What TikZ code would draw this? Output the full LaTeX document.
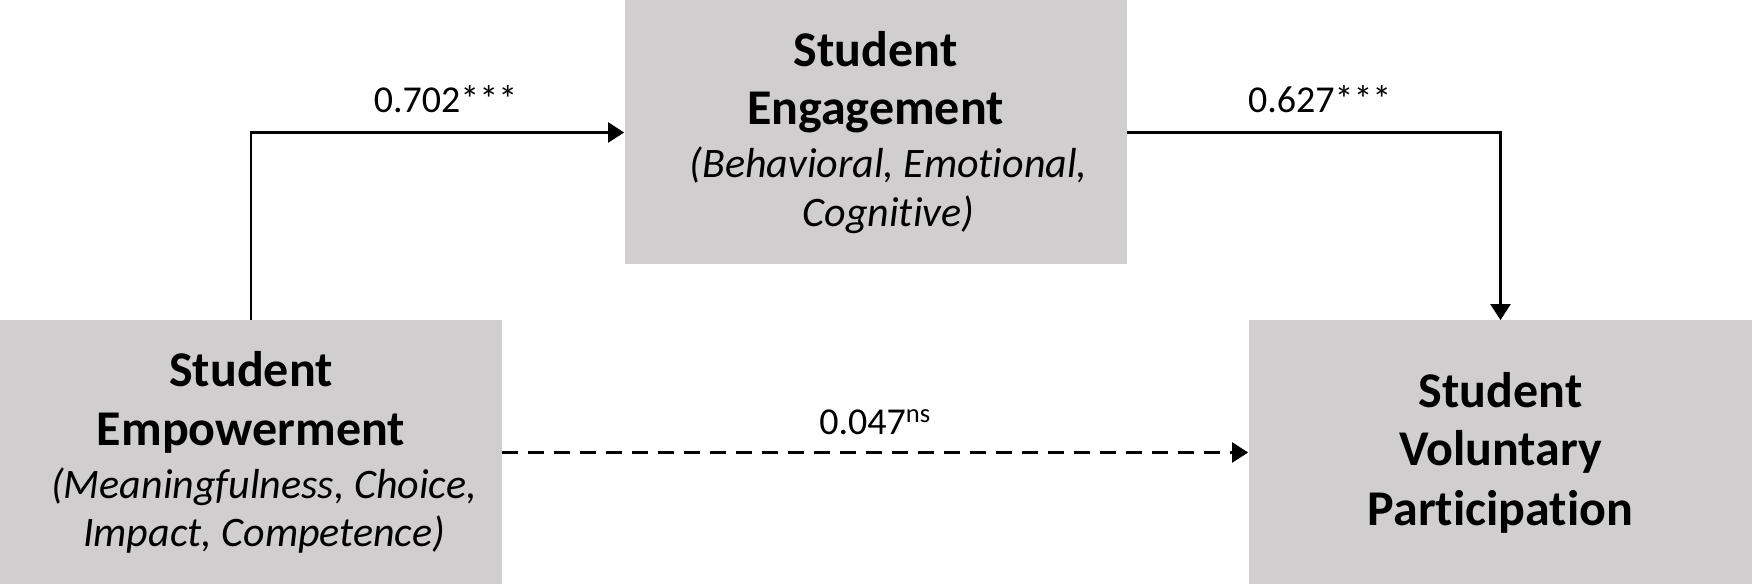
\documentclass[tikz,border=0pt]{standalone}
\usepackage{fontspec}
\setmainfont{Carlito}[Ligatures=NoCommon]
\usetikzlibrary{arrows.meta}
\definecolor{boxgray}{HTML}{D0CECE}
\tikzset{
	modelbox/.style={rectangle, fill=boxgray, minimum width=251pt, minimum height=132pt, inner sep=0pt, align=center, font=\fontsize{25}{29.25}\selectfont\bfseries, execute at begin node={\rule{0pt}{26pt}}},
	path/.style={line width=1.2pt, -{Triangle[length=8pt,width=10pt]}},
	coef/.style={font=\fontsize{19}{23}\selectfont, inner sep=0pt}
}
\newcommand{\modelbox}[4][]{\node[modelbox,#1] at (#2) (#3) {#4}}
\newcommand{\dims}[1]{{\fontsize{21}{24.5}\selectfont\mdseries\itshape\hspace*{13pt}#1}}

\begin{document}
\begin{tikzpicture}[x=0.5pt,y=0.5pt]
			\useasboundingbox (0,0) rectangle (1752,588);
			\modelbox{251,135.5}{emp}{Student\\Empowerment\\[-2.75pt]\dims{(Meaningfulness, Choice,}\\[-5pt]\dims{Impact, Competence)}};
			\modelbox{875.5,455.5}{eng}{Student\\Engagement\\[-2.75pt]\dims{(Behavioral, Emotional,}\\[-5pt]\dims{Cognitive)}};
			\modelbox[minimum width=252pt]{1500.5,135.5}{vp}{Student\\Voluntary\\[0.5pt]Participation};
			%           \node[coef] at (446,480) {};
			\draw[path]
			(emp.north) |- node[coef, above=9pt, pos=0.75, xshift=4pt] (b1) {0.702***} (eng.west);
			\draw[path]
			(eng.east) -| node[coef, above=9pt, pos=0.25, xshift=3pt] (b2) {0.627***} (vp.north);
			\draw[path, dash pattern=on 8pt off 5pt]
			(emp.east) -- node[coef, above=8pt, midway] (b3) {0.047\textsuperscript{ns}} (vp.west);
		\end{tikzpicture}
\end{document}
